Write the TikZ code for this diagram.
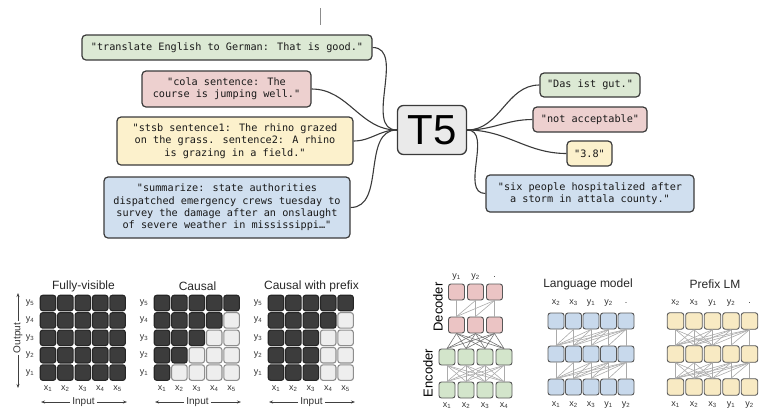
\documentclass[tikz,border=0pt]{standalone}
\usepackage{fontspec}
\setmainfont{Liberation Sans}
\newfontfamily\codefont[Ligatures=TeXOff]{DejaVu Sans Mono}
\usepackage{xcolor}
\definecolor{t5-green}{HTML}{DCE9D4}
\definecolor{t5-red}{HTML}{EDD0CF}
\definecolor{t5-yellow}{HTML}{FCF1CC}
\definecolor{t5-blue}{HTML}{D0DFEF}
\definecolor{t5-grey}{HTML}{EAEAEA}
\definecolor{t5-ink}{HTML}{3A3A3A}
\definecolor{mask-dark}{HTML}{3C3C3C}
\definecolor{mask-light}{HTML}{EEEEEE}
\definecolor{mask-edge}{HTML}{8E8E8E}
\definecolor{arch-red}{HTML}{EBC4C4}
\definecolor{arch-green}{HTML}{D3E5CB}
\definecolor{arch-blue}{HTML}{C8D9EC}
\definecolor{arch-yellow}{HTML}{F8EAC3}
\definecolor{arch-line}{HTML}{ABABAB}
\usetikzlibrary{arrows.meta,positioning,calc}

\begin{document}
\begin{tikzpicture}[
    x=1pt, y=-1pt,
    font=\fontsize{12}{14}\selectfont,
    >={Stealth[length=4pt,width=3pt]},
    task/.style={draw=t5-ink, line width=1.2pt, rounded corners=4pt, align=center, inner sep=0pt, text=black!90, font=\codefont\fontsize{10.2}{12.3}\selectfont},
    link/.style={draw=t5-ink, line width=1.1pt},
    cellbox/.style={line width=1.1pt, rounded corners=2.5pt, minimum size=15.5pt, inner sep=0pt},
    seecell/.style={cellbox, fill=mask-dark, draw=black!85},
    blindcell/.style={cellbox, fill=mask-light, draw=mask-edge},
    unit/.style={draw=t5-ink!85, line width=0.9pt, rounded corners=2.5pt, minimum size=16pt, inner sep=0pt},
    wire/.style={draw=arch-line, line width=0.6pt},
    tok/.style={font=\fontsize{9}{10}\selectfont, inner sep=0pt, text=black!80},
    paneltitle/.style={font=\fontsize{12}{14}\selectfont, text=black!85},
    stack/.style={font=\fontsize{13}{14}\selectfont, rotate=90, inner sep=0pt}
]
\useasboundingbox (0,0) rectangle (761,416);
\draw[black!45, line width=1.5pt] (320.5,8) -- (320.5,25);

\node[task, fill=t5-green, minimum width=290pt, minimum height=25pt] (translate) at (227,47.5) {"translate English to German: That is good."};
\node[task, fill=t5-red, minimum width=169pt, minimum height=36pt] (cola) at (226.5,89) {"cola sentence: The\\course is jumping well."};
\node[task, fill=t5-yellow, minimum width=236pt, minimum height=48pt] (stsb) at (235,141) {"stsb sentence1: The rhino grazed\\on the grass. sentence2: A rhino\\is grazing in a field."};
\node[task, fill=t5-blue, minimum width=246pt, minimum height=61pt] (summ) at (227,207.5) {"summarize: state authorities\\dispatched emergency crews tuesday to\\survey the damage after an onslaught\\of severe weather in mississippi…"};

\node[draw=t5-ink, fill=t5-grey, line width=1.3pt, rounded corners=6pt, minimum width=69pt, minimum height=49pt, inner sep=0pt, font=\fontsize{42}{42}\selectfont] (t5) at (432,130) {T5};

\node[task, fill=t5-green, minimum width=100pt, minimum height=24pt] (dasist) at (590,85) {"Das ist gut."};
\node[task, fill=t5-red, minimum width=114pt, minimum height=25pt] (notacc) at (590,119.5) {"not acceptable"};
\node[task, fill=t5-yellow, minimum width=45pt, minimum height=25pt] (score) at (589.5,153.5) {"3.8"};
\node[task, fill=t5-blue, minimum width=208pt, minimum height=37pt] (six) at (590,193.5) {"six people hospitalized after\\a storm in attala county."};

\foreach \src in {translate,cola,stsb,summ}
    \draw[link] (\src.east) to[out=0, in=180] (t5.west);
\foreach \dst in {dasist,notacc,score,six}
    \draw[link] (t5.east) to[out=0, in=180] (\dst.west);

\foreach \gx/\kind/\name/\label in {40/0/full/Fully-visible,154/1/causal/Causal,268/3/prefix/Causal with prefix} {
    \node[paneltitle] (\name-title) at ({\gx+43.5},286) {\label};
    \foreach \i in {1,...,5} {
        \node[tok] (\name-y\i) at ({\gx-10},{303+(5-\i)*17.4}) {y\textsubscript{\i}};
        \node[tok] (\name-x\i) at ({\gx+8+(\i-1)*17.4},389) {x\textsubscript{\i}};
        \foreach \j in {1,...,5} {
            \pgfmathtruncatemacro\shade{(\kind==0)||(\j<=max(\i,\kind))}
            \ifnum\shade=1 \def\look{seecell}\else\def\look{blindcell}\fi
            \node[\look] (\name-\i-\j) at ({\gx+8+(\j-1)*17.4},{303+(5-\i)*17.4}) {};
        }
    }
    \node[tok, font=\fontsize{10}{11}\selectfont, fill=white, inner xsep=2pt] (\name-in) at ({\gx+43.5},402) {Input};
    \coordinate (\name-inl) at ({\gx+1},402);
    \coordinate (\name-inr) at ({\gx+87},402);
    \draw[->, black!75, line width=0.8pt] (\name-in.west) -- (\name-inl);
    \draw[->, black!75, line width=0.8pt] (\name-in.east) -- (\name-inr);
}
\node[tok, rotate=90, font=\fontsize{10}{11}\selectfont, inner xsep=2pt] (full-out) at (18,338) {Output};
\coordinate (full-outt) at (18,293);
\coordinate (full-outb) at (18,388);
\draw[->, black!75, line width=0.8pt] (full-out.east) -- (full-outt);
\draw[->, black!75, line width=0.8pt] (full-out.west) -- (full-outb);

\foreach \k/\t in {1/x\textsubscript{1},2/x\textsubscript{2},3/x\textsubscript{3},4/x\textsubscript{4}} {
    \node[unit, fill=arch-green] (enc-a\k) at ({447+(\k-1)*19},390) {};
    \node[unit, fill=arch-green] (enc-b\k) at ({447+(\k-1)*19},357) {};
    \node[tok] (enc-t\k) at ({447+(\k-1)*19},406) {\t};
}
\foreach \k/\t in {1/y\textsubscript{1},2/y\textsubscript{2},3/.} {
    \node[unit, fill=arch-red] (dec-a\k) at ({456.5+(\k-1)*19},325) {};
    \node[unit, fill=arch-red] (dec-b\k) at ({456.5+(\k-1)*19},292) {};
    \node[tok] (dec-t\k) at ({456.5+(\k-1)*19},277) {\t};
}
\foreach \i in {1,...,4} {
    \foreach \j in {1,...,4}
        \draw[wire] (enc-a\i.north) -- (enc-b\j.south);
    \foreach \j in {1,...,3}
        \draw[wire, draw=black!55] (enc-b\i.north) -- (dec-a\j.south);
}
\foreach \i in {1,...,3}
    \foreach \j in {\i,...,3}
        \draw[wire] (dec-a\i.north) -- (dec-b\j.south);
\node[stack] (enc-label) at (428,373) {Encoder};
\node[stack] (dec-label) at (438,307) {Decoder};

\node[paneltitle] (lm-title) at (588,284) {Language model};
\foreach \k/\b/\t in {1/x\textsubscript{1}/x\textsubscript{2},2/x\textsubscript{2}/x\textsubscript{3},3/x\textsubscript{3}/y\textsubscript{1},4/y\textsubscript{1}/y\textsubscript{2},5/y\textsubscript{2}/.} {
    \node[unit, fill=arch-blue] (lm-a\k) at ({556+(\k-1)*17.5},387) {};
    \node[unit, fill=arch-blue] (lm-b\k) at ({556+(\k-1)*17.5},354) {};
    \node[unit, fill=arch-blue] (lm-c\k) at ({556+(\k-1)*17.5},321) {};
    \node[tok] (lm-s\k) at ({556+(\k-1)*17.5},405) {\b};
    \node[tok] (lm-t\k) at ({556+(\k-1)*17.5},303) {\t};
}
\foreach \i in {1,...,5}
    \foreach \j in {\i,...,5} {
        \draw[wire] (lm-a\i.north) -- (lm-b\j.south);
        \draw[wire] (lm-b\i.north) -- (lm-c\j.south);
    }

\node[paneltitle] (plm-title) at (715,284) {Prefix LM};
\foreach \k/\b/\t in {1/x\textsubscript{1}/x\textsubscript{2},2/x\textsubscript{2}/x\textsubscript{3},3/x\textsubscript{3}/y\textsubscript{1},4/y\textsubscript{1}/y\textsubscript{2},5/y\textsubscript{2}/.} {
    \node[unit, fill=arch-yellow, minimum size=16.5pt] (plm-a\k) at ({675.5+(\k-1)*18.5},387) {};
    \node[unit, fill=arch-yellow, minimum size=16.5pt] (plm-b\k) at ({675.5+(\k-1)*18.5},354) {};
    \node[unit, fill=arch-yellow, minimum size=16.5pt] (plm-c\k) at ({675.5+(\k-1)*18.5},321) {};
    \node[tok] (plm-s\k) at ({675.5+(\k-1)*18.5},405) {\b};
    \node[tok] (plm-t\k) at ({675.5+(\k-1)*18.5},303) {\t};
}
\foreach \i in {1,...,5}
    \foreach \j in {1,...,5} {
        \pgfmathtruncatemacro\seen{(\j>=\i)||((\i<=3)&&(\j<=3))}
        \ifnum\seen=1
            \draw[wire] (plm-a\i.north) -- (plm-b\j.south);
            \draw[wire] (plm-b\i.north) -- (plm-c\j.south);
        \fi
    }
\end{tikzpicture}
\end{document}
